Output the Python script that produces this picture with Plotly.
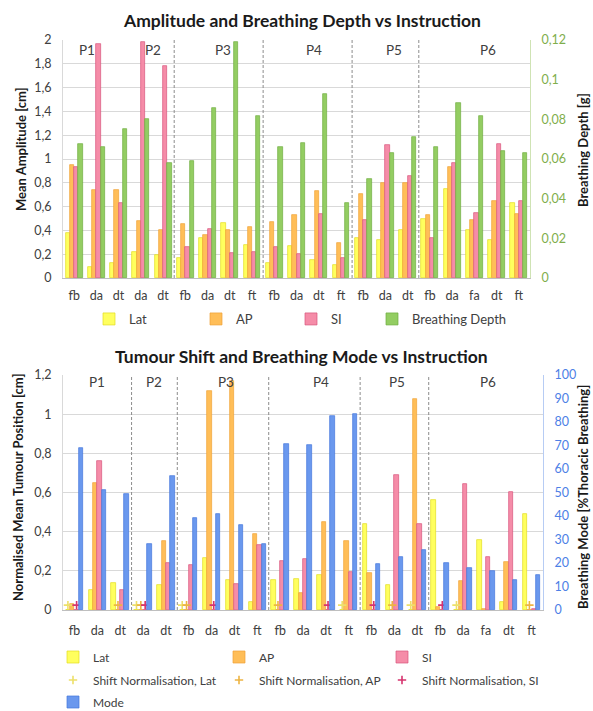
import plotly.graph_objects as go

# ---------------- data ----------------
group_names = ["P1", "P2", "P3", "P4", "P5", "P6"]
group_sizes = [3, 2, 4, 4, 3, 5]
instructions = ["fb", "da", "dt", "da", "dt", "fb", "da", "dt", "ft", "fb", "da",
                "dt", "ft", "fb", "da", "dt", "fb", "da", "fa", "dt", "ft"]

# Chart 1: Amplitude [cm] and Breathing depth [g]
amp_lat = [0.38, 0.09, 0.13, 0.22, 0.19, 0.17, 0.34, 0.46, 0.28, 0.13, 0.27,
           0.15, 0.11, 0.34, 0.32, 0.40, 0.50, 0.75, 0.40, 0.32, 0.63]
amp_ap = [0.95, 0.74, 0.74, 0.48, 0.40, 0.45, 0.36, 0.40, 0.43, 0.47, 0.53,
          0.73, 0.29, 0.71, 0.80, 0.80, 0.53, 0.93, 0.49, 0.65, 0.54]
amp_si = [0.93, 1.97, 0.63, 1.98, 1.78, 0.26, 0.41, 0.21, 0.22, 0.26, 0.20,
          0.54, 0.17, 0.49, 1.12, 0.86, 0.34, 0.97, 0.55, 1.13, 0.65]
breathing_depth = [0.0675, 0.066, 0.075, 0.080, 0.058, 0.059, 0.0856, 0.119, 0.0817, 0.066, 0.068,
                   0.093, 0.038, 0.050, 0.063, 0.071, 0.066, 0.088, 0.0815, 0.064, 0.063]

# Chart 2: Normalised mean tumour position [cm] and breathing mode [%]
pos_lat = [0, 0.10, 0.14, 0, 0.13, 0, 0.265, 0.155, 0.04, 0.155, 0.16,
           0.18, 0, 0.44, 0.13, 0, 0.56, 0, 0.36, 0.04, 0.49]
pos_ap = [0.03, 0.65, 0, 0, 0.35, 0, 1.12, 1.17, 0.39, 0, 0.085,
          0.45, 0.35, 0.19, 0, 1.08, 0.015, 0.15, 0.005, 0.245, 0]
pos_si = [0, 0.76, 0.10, 0, 0.24, 0.23, 0, 0.135, 0.33, 0.25, 0.26,
          0, 0.195, 0, 0.69, 0.44, 0, 0.645, 0.27, 0.605, 0.005]
shift_lat = [0.025, None, None, 0.025, None, 0.025, None, None, None, None, None,
             None, 0.025, None, None, 0.025, None, 0.025, None, None, None]
shift_ap = [None, None, 0.025, 0.025, None, 0.025, None, None, None, 0.025, None,
            None, None, None, 0.025, None, None, None, None, None, 0.025]
shift_si = [0.025, None, None, 0.025, None, None, 0.025, None, None, None, None,
            0.025, None, 0.025, None, None, 0.025, None, None, None, None]
mode_pct = [69, 51, 49.5, 28, 57, 39, 41, 36, 28, 70.5, 70.3,
            82.6, 83.6, 19.6, 22.7, 25.5, 19.9, 17.8, 16.7, 12.9, 15]

# ---------------- style ----------------
FONT = "Lato, 'Open Sans', sans-serif"
TXT = "#404040"
C_LAT, L_LAT = "#FFFF5E", "#E3DC20"
C_AP, L_AP = "#FFBE58", "#EFA236"
C_SI, L_SI = "#F58CA8", "#D8557D"
C_GR, L_GR = "#93CD62", "#6FAD40"
C_BL, L_BL = "#6A98EE", "#4475DB"
W = 0.19
OFFS = [-0.38, -0.19, 0.0, 0.19]

xs = list(range(len(instructions)))

fig = go.Figure()


def bar(name, y, k, fc, lc, xa, ya, legend):
    fig.add_trace(go.Bar(
        name=name, x=xs, y=y, width=W, offset=OFFS[k],
        marker=dict(color=fc, line=dict(color=lc, width=0.7)),
        xaxis=xa, yaxis=ya, legend=legend))


# chart 1 (one legend per entry so the entries can be spaced like the original)
bar("Lat", amp_lat, 0, C_LAT, L_LAT, "x", "y", "legend")
bar("AP", amp_ap, 1, C_AP, L_AP, "x", "y", "legend2")
bar("SI", amp_si, 2, C_SI, L_SI, "x", "y", "legend3")
bar("Breathing Depth", breathing_depth, 3, C_GR, L_GR, "x", "y2", "legend4")

# chart 2 (one legend per entry, laid out in a 3-column grid)
bar("Lat", pos_lat, 0, C_LAT, L_LAT, "x2", "y3", "legend5")
bar("AP", pos_ap, 1, C_AP, L_AP, "x2", "y3", "legend6")
bar("SI", pos_si, 2, C_SI, L_SI, "x2", "y3", "legend7")


def cross(name, y, k, col, legend):
    fig.add_trace(go.Scatter(
        name=name, x=[i + OFFS[k] + W / 2 for i in xs], y=y, mode="markers",
        marker=dict(symbol="cross-thin", size=6, color=col, line=dict(color=col, width=1.6)),
        xaxis="x2", yaxis="y3", legend=legend))


cross("Shift Normalisation, Lat", shift_lat, 0, "#EDE06A", "legend8")
cross("Shift Normalisation, AP", shift_ap, 1, "#EDB443", "legend9")
cross("Shift Normalisation, SI", shift_si, 2, "#D6336E", "legend10")
bar("Mode", mode_pct, 3, C_BL, L_BL, "x2", "y4", "legend11")

# ---------------- layout ----------------
PW, PH = 593, 711
def px(v):
    return v / PW
def py(v):
    return 1 - v / PH

top_dom_x = [px(63), px(530)]
top_dom_y = [py(278), py(40)]
bot_dom_x = [px(63), px(543)]
bot_dom_y = [py(610), py(375)]

xcommon = dict(range=[-0.5, len(xs) - 0.5], tickmode="array", tickvals=xs, ticktext=instructions,
               showgrid=False, zeroline=False, showline=True, linecolor="#BFBFBF", linewidth=1,
               ticks="", tickfont=dict(size=12.5, color=TXT, family=FONT), fixedrange=True)


def leg(xc, yc, size=13):
    return dict(orientation="h", x=px(xc - 21), xanchor="left", y=py(yc), yanchor="middle",
                font=dict(size=size, color=TXT), itemwidth=30, bgcolor="rgba(0,0,0,0)",
                traceorder="normal")


col_x = [74, 240, 403]
row_y = [657, 680, 702]

fig.update_layout(
    width=PW, height=PH, margin=dict(l=0, r=0, t=0, b=0, autoexpand=False),
    paper_bgcolor="white", plot_bgcolor="white",
    separators=", ", barmode="overlay", bargap=0,
    font=dict(family=FONT, color=TXT, size=12),
    xaxis=dict(domain=top_dom_x, anchor="y", ticklabelstandoff=6, **xcommon),
    yaxis=dict(domain=top_dom_y, anchor="x", range=[0, 2], dtick=0.2, tick0=0,
               gridcolor="#D9D9D9", zeroline=False, showline=True, linecolor="#D9D9D9",
               ticks="", ticklabelstandoff=8, tickfont=dict(size=12.5, color=TXT)),
    yaxis2=dict(overlaying="y", side="right", anchor="x", range=[0, 0.12], dtick=0.02, tick0=0,
                showgrid=False, zeroline=False, showline=True, linecolor="#CFE3B4",
                ticks="", ticklabelstandoff=8, tickfont=dict(size=12.5, color="#7FAE4C")),
    xaxis2=dict(domain=bot_dom_x, anchor="y3", ticklabelstandoff=9, **xcommon),
    yaxis3=dict(domain=bot_dom_y, anchor="x2", range=[0, 1.2], dtick=0.2, tick0=0,
                gridcolor="#D9D9D9", zeroline=False, showline=True, linecolor="#D9D9D9",
                ticks="", ticklabelstandoff=8, tickfont=dict(size=12.5, color=TXT)),
    yaxis4=dict(overlaying="y3", side="right", anchor="x2", range=[0, 100], dtick=10, tick0=0,
                showgrid=False, zeroline=False, showline=True, linecolor="#B7CCF4",
                ticks="", ticklabelstandoff=8, tickfont=dict(size=12.5, color="#4D80E6")),
    legend=leg(110, 319),
    legend2=leg(217, 319),
    legend3=leg(312, 319),
    legend4=leg(393, 319),
    legend5=leg(col_x[0], row_y[0], 12),
    legend6=leg(col_x[1], row_y[0], 12),
    legend7=leg(col_x[2], row_y[0], 12),
    legend8=leg(col_x[0], row_y[1], 12),
    legend9=leg(col_x[1], row_y[1], 12),
    legend10=leg(col_x[2], row_y[1], 12),
    legend11=leg(col_x[0], row_y[2], 12),
    showlegend=True,
)

annotations = []
# chart titles
annotations.append(dict(text="<b>Amplitude and Breathing Depth vs Instruction</b>", x=px(302), y=py(20),
                        xref="paper", yref="paper", xanchor="center", yanchor="middle",
                        showarrow=False, font=dict(size=17.5, color="#1a1a1a")))
annotations.append(dict(text="<b>Tumour Shift and Breathing Mode vs Instruction</b>", x=px(301), y=py(356),
                        xref="paper", yref="paper", xanchor="center", yanchor="middle",
                        showarrow=False, font=dict(size=17.5, color="#1a1a1a")))
# axis titles
for txt, xx, yy in [("Mean Amplitude [cm]", 21, 149), ("Breathing Depth [g]", 583, 150),
                    ("Normalised Mean Tumour Position [cm]", 18, 488),
                    ("Breathing Mode [%Thoracic Breathing]", 583, 497)]:
    annotations.append(dict(text="<b>" + txt + "</b>", x=px(xx), y=py(yy), xref="paper", yref="paper",
                            xanchor="center", yanchor="middle",
                            textangle=-90, showarrow=False, font=dict(size=13, color="#1a1a1a")))

# group labels and separators
shapes = []
top_label_shift = [-0.4, 0.05, 0.2, 0.3, 0.4, 0.6]
bot_label_shift = [0.0, 0.0, 0.15, 0.3, 0.1, 0.1]
start = 0
bounds = []
for g, n in zip(group_names, group_sizes):
    bounds.append((start, start + n))
    start += n
for gi, (g, (a, b)) in enumerate(zip(group_names, bounds)):
    centre = (a + b - 1) / 2
    annotations.append(dict(text=g, x=centre + top_label_shift[gi], y=0.958, xref="x", yref="y domain",
                            xanchor="center", yanchor="middle",
                            showarrow=False, font=dict(size=13.5, color=TXT)))
    annotations.append(dict(text=g, x=centre + bot_label_shift[gi], y=0.97, xref="x2", yref="y3 domain",
                            xanchor="center", yanchor="middle",
                            showarrow=False, font=dict(size=13.5, color=TXT)))
    if gi > 0:
        sep = a - 0.5
        if gi > 1:
            shapes.append(dict(type="line", xref="x", yref="y domain", x0=sep, x1=sep, y0=0, y1=1,
                               line=dict(color="#8C8C8C", width=1, dash="3px,2px")))
        shapes.append(dict(type="line", xref="x2", yref="y3 domain", x0=sep, x1=sep, y0=0, y1=1,
                           line=dict(color="#8C8C8C", width=1, dash="3px,2px")))

fig.update_layout(annotations=annotations, shapes=shapes)

fig.write_html("out.html", config={"displayModeBar": False},
               post_script="document.body.style.margin='0';document.body.style.overflow='hidden';")
